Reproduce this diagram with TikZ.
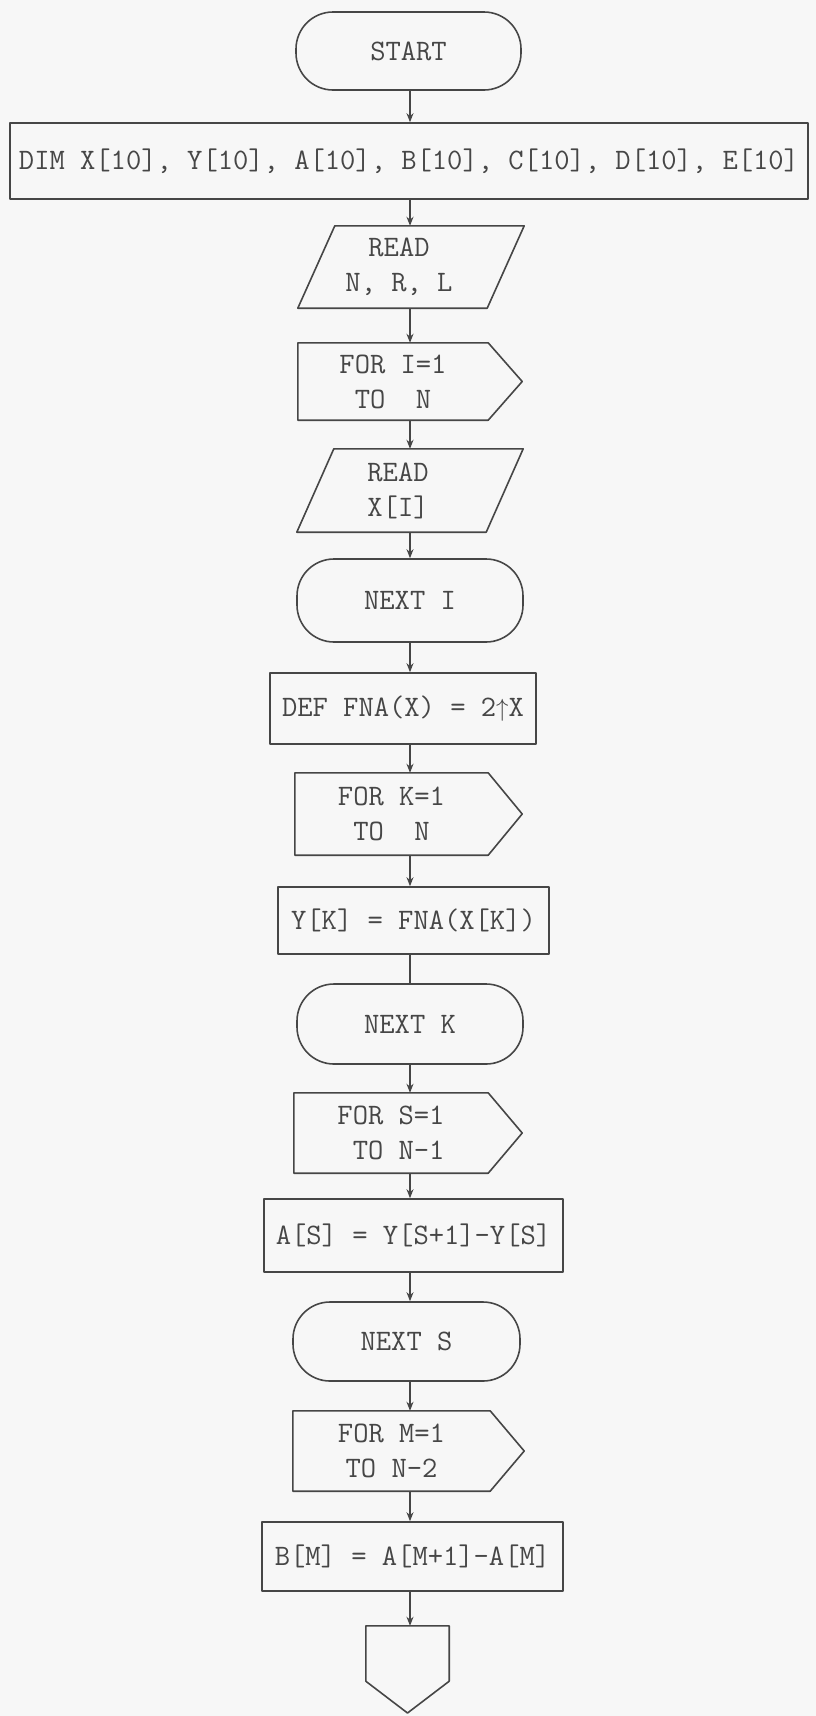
\documentclass[tikz,border=0pt]{standalone}
\usepackage{fontspec}
\usetikzlibrary{arrows.meta}
\definecolor{paper}{RGB}{247,247,247}
\definecolor{ink}{RGB}{70,70,70}
\begin{document}
\begin{tikzpicture}[x=1pt,y=-1pt,
  every node/.style={font=\ttfamily\fontsize{29.7}{35}\selectfont, text=ink,
    inner sep=0pt, align=center},
  outline/.style={draw=ink, line width=1.6pt, line join=round},
  term/.style={outline, rectangle, rounded corners=37pt},
  proc/.style={outline, rectangle},
  bare/.style={rectangle},
  flow/.style={draw=ink, line width=1.5pt, -{Stealth[length=9pt,width=7pt]}},
  plain/.style={draw=ink, line width=1.5pt}
]
% page
\fill[paper] (0,0) rectangle (816,1716);
\useasboundingbox (0,0) rectangle (816,1716);

% column that carries every connector
\coordinate (spine) at (410,0);

% blocks, top to bottom
\node[term, minimum width=225pt, minimum height=78pt] (start) at (408.5,51) {START};
\node[proc, minimum width=798pt, minimum height=76pt] (dim) at (409,161)
  {DIM X[10], Y[10], A[10], B[10], C[10], D[10], E[10]};
\node[bare, minimum width=189pt, minimum height=82pt] (rd1) at (399,267) {READ\\N, R, L};
\node[bare, minimum width=190pt, minimum height=77pt] (fi) at (393,381.5) {FOR I=1\\TO\ \ N};
\node[bare, minimum width=189pt, minimum height=83pt] (rd2) at (398,490.5) {READ\\X[I]};
\node[term, minimum width=226pt, minimum height=83pt] (ni) at (410,600.5) {NEXT I};
\node[proc, minimum width=266pt, minimum height=71pt] (def) at (403,708.5)
  {DEF FNA(X) = 2$\uparrow$X};
\node[bare, minimum width=193pt, minimum height=82pt] (fk) at (391.5,814) {FOR K=1\\TO\ \ N};
\node[proc, minimum width=271pt, minimum height=67pt] (yk) at (413.5,920.5)
  {Y[K] = FNA(X[K])};
\node[term, minimum width=226pt, minimum height=80pt] (nk) at (410,1024) {NEXT K};
\node[bare, minimum width=194pt, minimum height=80pt] (fs) at (391,1133)
  {FOR S=1\\\phantom{T}TO N-1};
\node[proc, minimum width=299pt, minimum height=73pt] (as) at (413.5,1235.5)
  {A[S] = Y[S+1]-Y[S]};
\node[term, minimum width=227pt, minimum height=79pt] (ns) at (406.5,1341.5) {NEXT S};
\node[bare, minimum width=197pt, minimum height=80pt] (fm) at (391.5,1451) {FOR M=1\\TO N-2};
\node[proc, minimum width=301pt, minimum height=69pt] (bm) at (412.5,1556.5)
  {B[M] = A[M+1]-A[M]};
\node[bare, minimum width=83pt, minimum height=55pt] (off) at (407.5,1653.5) {};
\coordinate (offtip) at (407.5,1713);

% input parallelograms
\foreach \n in {rd1,rd2}
  \draw[outline] ([xshift=30.5pt]\n.north west) -- ([xshift=30.5pt]\n.north east)
    -- ([xshift=-6.5pt]\n.south east) -- ([xshift=-6.5pt]\n.south west) -- cycle;

% loop-head blocks with a pointed right side
\foreach \n in {fi,fk,fs,fm}
  \draw[outline] (\n.north west) -- (\n.north east) -- ([xshift=34pt]\n.east)
    -- (\n.south east) -- (\n.south west) -- cycle;

% off-page connector
\draw[outline] (off.north west) -- (off.north east) -- (off.south east)
  -- (offtip) -- (off.south west) -- cycle;

% connectors
\draw[flow] (start.south -| spine) -- (dim.north -| spine);
\draw[flow] (dim.south -| spine) -- (rd1.north -| spine);
\draw[flow] (rd1.south -| spine) -- (fi.north -| spine);
\draw[flow] (fi.south -| spine) -- (rd2.north -| spine);
\draw[flow] (rd2.south -| spine) -- (ni.north -| spine);
\draw[flow] (ni.south -| spine) -- (def.north -| spine);
\draw[flow] (def.south -| spine) -- (fk.north -| spine);
\draw[flow] (fk.south -| spine) -- (yk.north -| spine);
\draw[plain] (yk.south -| spine) -- (nk.north -| spine);
\draw[flow] (nk.south -| spine) -- (fs.north -| spine);
\draw[flow] (fs.south -| spine) -- (as.north -| spine);
\draw[flow] (as.south -| spine) -- (ns.north -| spine);
\draw[flow] (ns.south -| spine) -- (fm.north -| spine);
\draw[flow] (fm.south -| spine) -- (bm.north -| spine);
\draw[flow] (bm.south -| spine) -- (off.north -| spine);
\end{tikzpicture}
\end{document}
